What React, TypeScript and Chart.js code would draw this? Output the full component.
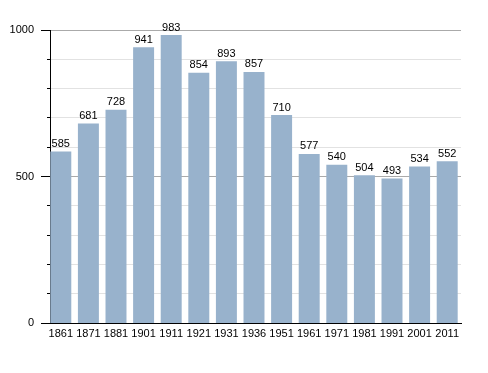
import React, { useEffect, useRef } from "react";
import { Chart, registerables } from "chart.js";

Chart.register(...registerables);

const years = ["1861", "1871", "1881", "1901", "1911", "1921", "1931", "1936", "1951", "1961", "1971", "1981", "1991", "2001", "2011"];
const population = [585, 681, 728, 941, 983, 854, 893, 857, 710, 577, 540, 504, 493, 534, 552];
const yMin = 0;
const yMax = 1000;
const majorStep = 500;
const minorStep = 100;

const FONT = "'Liberation Sans', Arial, sans-serif";

const valueLabels = {
  id: "valueLabels",
  afterDatasetsDraw(chart: any) {
    const ctx = chart.ctx;
    const meta = chart.getDatasetMeta(0);
    ctx.save();
    ctx.font = `11px ${FONT}`;
    ctx.fillStyle = "#000";
    ctx.textAlign = "center";
    ctx.textBaseline = "bottom";
    meta.data.forEach((bar: any, i: number) => {
      ctx.fillText(String(population[i]), bar.x, bar.y - 2);
    });
    ctx.restore();
  },
};

export default function App() {
  const ref = useRef<HTMLCanvasElement>(null);
  useEffect(() => {
    if (!ref.current) return;
    const chart = new Chart(ref.current, {
      type: "bar",
      data: {
        labels: years,
        datasets: [
          {
            data: population,
            yAxisID: "y",
            backgroundColor: "#98b2cc",
            barPercentage: 0.76,
            categoryPercentage: 1,
          },
        ],
      },
      options: {
        responsive: false,
        animation: false,
        devicePixelRatio: 1,
        layout: { padding: { top: 30, right: 27, left: 0, bottom: 0 } },
        plugins: { legend: { display: false }, tooltip: { enabled: false } },
        scales: {
          x: {
            grid: { display: false, drawTicks: false },
            border: { color: "#000", width: 1 },
            ticks: { color: "#000", font: { family: FONT, size: 11 }, padding: 4, maxRotation: 0, autoSkip: false },
            afterFit: (s: any) => { s.width = s.width; s.height = 50; },
          },
          y: {
            position: "left",
            min: yMin,
            max: yMax,
            grid: { display: false, drawTicks: false },
            border: { display: false },
            ticks: {
              stepSize: majorStep,
              color: "#000",
              padding: 13,
              font: { family: FONT, size: 11 },
              callback: (v: any) => String(v),
            },
            afterFit: (s: any) => { s.width = 47; },
          },
          yMinor: {
            type: "linear",
            position: { x: -0.391 } as any,
            min: yMin,
            max: yMax,
            border: { display: false },
            grid: {
              color: (c: any) => (c.tick && c.tick.value % majorStep === 0 ? "rgba(0,0,0,0)" : "#e2e2e2"),
              tickColor: "#000",
              tickLength: 3,
            },
            ticks: { stepSize: minorStep, display: false },
          },
          yMajor: {
            type: "linear",
            position: { x: -0.391 } as any,
            min: yMin,
            max: yMax,
            border: { color: "#000", width: 1 },
            grid: {
              color: "#aaaaaa",
              tickColor: "#000",
              tickLength: 9,
            },
            ticks: { stepSize: majorStep, display: false },
          },
        },
      },
      plugins: [valueLabels],
    });
    return () => chart.destroy();
  }, []);
  return (
    <canvas
      ref={ref}
      width={488}
      height={373}
      style={{ position: "fixed", left: 0, top: 0, width: 488, height: 373, background: "#fff" }}
    />
  );
}
